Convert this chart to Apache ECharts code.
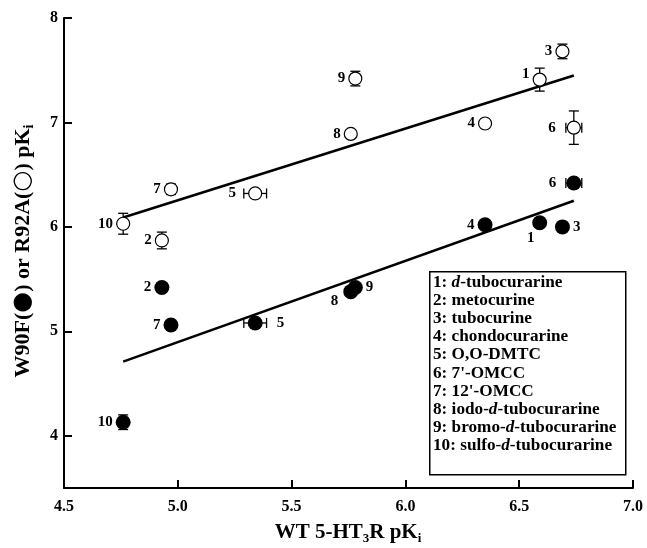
<!DOCTYPE html>
<html>
<head>
<meta charset="utf-8">
<script src="https://cdn.jsdelivr.net/npm/echarts@6/dist/echarts.min.js"></script>
<style>
  html, body { margin: 0; padding: 0; background: #fff; }
  #chart { width: 647px; height: 548px; }
</style>
</head>
<body>
<div id="chart"></div>
<script>
// compound numbers 1..10
var compoundIds = [1, 2, 3, 4, 5, 6, 7, 8, 9, 10];
var compoundNames = [
  '{i|d}-tubocurarine', 'metocurine', 'tubocurine', 'chondocurarine', 'O,O-DMTC',
  "7'-OMCC", "12'-OMCC", 'iodo-{i|d}-tubocurarine', 'bromo-{i|d}-tubocurarine', 'sulfo-{i|d}-tubocurarine'
];
// WT 5-HT3R pKi (x) and its error
var wtPk = [6.59, 4.93, 6.69, 6.35, 5.34, 6.74, 4.97, 5.76, 5.78, 4.76];
var wtErr = [0, 0, 0, 0, 0.05, 0.035, 0, 0, 0, 0];
// R92A (open) and W90F (filled) pKi
var r92aPk = [7.41, 5.87, 7.68, 6.99, 6.32, 6.95, 6.36, 6.89, 7.42, 6.03];
var r92aErr = [0.11, 0.08, 0.07, 0, 0, 0.16, 0.05, 0, 0.07, 0.1];
var w90fPk = [6.04, 5.42, 6.0, 6.02, 5.08, 6.42, 5.06, 5.38, 5.42, 4.13];
var w90fErr = [0, 0, 0, 0, 0, 0, 0, 0, 0, 0.07];
// regression lines
var fitX = [4.76, 6.74];
var fitR92A = [6.09, 7.45];
var fitW90F = [4.71, 6.25];
var yTicks = [4, 5, 6, 7, 8];

var FONT = '"Liberation Serif", "Times New Roman", serif';

// label placement per point (styling only)
var openLabel = { 1: { offset: [0, -5] }, 5: { distance: 12 }, 6: { distance: 11 } };
var fillLabel = {
  1: { position: 'bottom', offset: [-9, -3] },
  3: { position: 'right' },
  5: { position: 'right', distance: 14 },
  6: { distance: 10 },
  8: { offset: [-2, 9], distance: 3 },
  9: { position: 'right' }
};

function points(ys, yErrs, cfg) {
  return compoundIds.map(function (id, i) {
    var c = cfg[id] || {};
    return {
      value: [wtPk[i], ys[i], wtErr[i], yErrs[i]],
      label: {
        show: true,
        formatter: String(id),
        position: c.position || 'left',
        distance: c.distance != null ? c.distance : 3,
        offset: c.offset || [0, 0]
      }
    };
  });
}

function errData(ys, yErrs) {
  return compoundIds.map(function (id, i) {
    return [wtPk[i], ys[i], wtErr[i], yErrs[i]];
  });
}

function renderErr(params, api) {
  var x = api.value(0), y = api.value(1), ex = api.value(2), ey = api.value(3);
  var kids = [];
  var st = { stroke: '#000', lineWidth: 1.3 };
  var cap = 5;
  if (ey > 0) {
    var top = api.coord([x, y + ey]), bot = api.coord([x, y - ey]);
    kids.push({ type: 'line', shape: { x1: top[0], y1: top[1], x2: bot[0], y2: bot[1] }, style: st });
    kids.push({ type: 'line', shape: { x1: top[0] - cap, y1: top[1], x2: top[0] + cap, y2: top[1] }, style: st });
    kids.push({ type: 'line', shape: { x1: bot[0] - cap, y1: bot[1], x2: bot[0] + cap, y2: bot[1] }, style: st });
  }
  if (ex > 0) {
    var l = api.coord([x - ex, y]), r = api.coord([x + ex, y]);
    kids.push({ type: 'line', shape: { x1: l[0], y1: l[1], x2: r[0], y2: r[1] }, style: st });
    kids.push({ type: 'line', shape: { x1: l[0], y1: l[1] - cap, x2: l[0], y2: l[1] + cap }, style: st });
    kids.push({ type: 'line', shape: { x1: r[0], y1: r[1] - cap, x2: r[0], y2: r[1] + cap }, style: st });
  }
  return { type: 'group', children: kids };
}

var labelStyle = { color: '#000', fontFamily: FONT, fontWeight: 'bold', fontSize: 15, opacity: 1 };

var legendText = compoundNames.map(function (n, i) {
  return compoundIds[i] + ': ' + n;
}).join('\n');

var myChart = echarts.init(document.getElementById('chart'), null, { renderer: 'canvas' });
var option = {
  backgroundColor: '#fff',
  animation: false,
  grid: { left: 64, right: 14, top: 18, bottom: 60 },
  xAxis: {
    type: 'value', min: 4.5, max: 7, interval: 0.5,
    axisLine: { lineStyle: { color: '#000', width: 2 } },
    axisTick: { inside: true, length: 8, lineStyle: { color: '#000', width: 2 } },
    axisLabel: {
      color: '#000', fontFamily: FONT, fontWeight: 'bold', fontSize: 16, margin: 11,
      formatter: function (v) { return v.toFixed(1); }
    },
    splitLine: { show: false }
  },
  yAxis: {
    type: 'value', min: 3.5, max: 8,
    axisLine: { show: true, lineStyle: { color: '#000', width: 2 } },
    axisTick: { show: true, inside: true, length: 8, customValues: yTicks, lineStyle: { color: '#000', width: 2 } },
    axisLabel: {
      color: '#000', fontFamily: FONT, fontWeight: 'bold', fontSize: 16, margin: 6,
      customValues: yTicks
    },
    splitLine: { show: false }
  },
  series: [
    { type: 'custom', renderItem: renderErr, data: errData(r92aPk, r92aErr), z: 1, silent: true },
    { type: 'custom', renderItem: renderErr, data: errData(w90fPk, w90fErr), z: 1, silent: true },
    {
      type: 'line', data: fitX.map(function (x, i) { return [x, fitR92A[i]]; }),
      showSymbol: false, lineStyle: { color: '#000', width: 2.5 }, z: 2
    },
    {
      type: 'line', data: fitX.map(function (x, i) { return [x, fitW90F[i]]; }),
      showSymbol: false, lineStyle: { color: '#000', width: 2.5 }, z: 2
    },
    {
      name: 'R92A', type: 'scatter', symbol: 'circle', symbolSize: 13,
      itemStyle: { color: '#fff', borderColor: '#000', borderWidth: 1.2, opacity: 1 },
      label: labelStyle,
      data: points(r92aPk, r92aErr, openLabel), z: 3
    },
    {
      name: 'W90F', type: 'scatter', symbol: 'circle', symbolSize: 15,
      itemStyle: { color: '#000', opacity: 1 },
      label: labelStyle,
      data: points(w90fPk, w90fErr, fillLabel), z: 4
    }
  ],
  graphic: [
    {
      type: 'rect', left: 429, top: 271, z: 10,
      shape: { width: 196, height: 203 },
      style: { fill: '#fff', stroke: '#000', lineWidth: 1.5 }
    },
    {
      type: 'text', left: 433, top: 273, z: 11,
      style: {
        text: legendText, fill: '#000', font: 'bold 17.2px ' + FONT, lineHeight: 18.2,
        rich: { i: { fontStyle: 'italic', fontWeight: 'bold', fontSize: 17.2, fontFamily: FONT, lineHeight: 18.2 } }
      }
    },
    {
      type: 'text', x: 348, y: 533, z: 11,
      style: {
        text: '{m|WT 5-HT}{s|3}{m|R pK}{s|i}', align: 'center', verticalAlign: 'middle',
        rich: {
          m: { fontFamily: FONT, fontWeight: 'bold', fontSize: 21, lineHeight: 24, fill: '#000' },
          s: { fontFamily: FONT, fontWeight: 'bold', fontSize: 13, lineHeight: 12, verticalAlign: 'bottom', fill: '#000' }
        }
      }
    },
    {
      type: 'text', x: 23, y: 251, rotation: Math.PI / 2, z: 11,
      style: {
        text: '{m|W90F(}{c|\u25CF}{m|) or R92A(}{c|\u25CB}{m|) pK}{s|i}', align: 'center', verticalAlign: 'middle',
        rich: {
          m: { fontFamily: FONT, fontWeight: 'bold', fontSize: 22, lineHeight: 26, fill: '#000' },
          c: { fontFamily: '"DejaVu Sans", sans-serif', fontSize: 24, lineHeight: 26, fill: '#000' },
          s: { fontFamily: FONT, fontWeight: 'bold', fontSize: 14, lineHeight: 12, verticalAlign: 'bottom', fill: '#000' }
        }
      }
    }
  ]
};
myChart.setOption(option);
</script>
</body>
</html>
